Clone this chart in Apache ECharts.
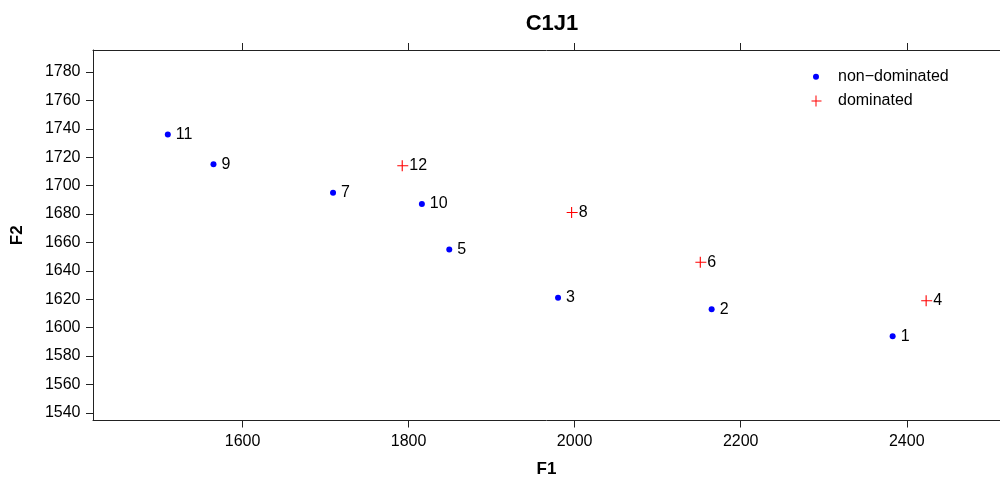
<!DOCTYPE html>
<html>
<head>
<meta charset="utf-8">
<script src="https://cdn.jsdelivr.net/npm/echarts@6/dist/echarts.min.js"></script>
<style>html,body{margin:0;padding:0;background:#fff}#c{width:1000px;height:480px}</style>
</head>
<body>
<div id="c"></div>
<script>
const titleText = 'C1J1';
const xName = 'F1';
const yName = 'F2';
const nonDomName = 'non\u2212dominated';
const domName = 'dominated';

const nonDomIds = [1, 2, 3, 5, 7, 9, 10, 11];
const nonDomF1 = [2383, 2165, 1980, 1849, 1709, 1565, 1816, 1510];
const nonDomF2 = [1594, 1613, 1621, 1655, 1695, 1715, 1687, 1736];

const domIds = [4, 6, 8, 12];
const domF1 = [2424, 2152, 1997, 1793];
const domF2 = [1619, 1646, 1681, 1714];

const xTicks = [1600, 1800, 2000, 2200, 2400];
const yTicks = [1540, 1560, 1580, 1600, 1620, 1640, 1660, 1680, 1700, 1720, 1740, 1760, 1780];

const FONT = '"Liberation Sans", Arial, Helvetica, sans-serif';
const plusPath = 'path://M4.5,0.5H5.5V5.5H10.5V6.5H5.5V11.5H4.5V6.5H0.5V5.5H4.5Z';
const plusLegend = 'path://M0,0L0.001,0.001ZM22,12L22.001,12.001ZM4.5,0.5H5.5V5.5H10.5V6.5H5.5V11.5H4.5V6.5H0.5V5.5H4.5Z';
const dotLegend = 'path://M0,0L0.001,0.001ZM22,12L22.001,12.001ZM2,6A3,3,0,1,1,8,6A3,3,0,1,1,2,6Z';

const nonDomData = nonDomIds.map((id, i) => ({ name: String(id), value: [nonDomF1[i], nonDomF2[i]] }));
const domData = domIds.map((id, i) => ({ name: String(id), value: [domF1[i], domF2[i]] }));

const chart = echarts.init(document.getElementById('c'), null, { renderer: 'canvas' });
const axisLineStyle = { color: '#222', width: 1 };
const plain = v => String(v);
chart.setOption({
  animation: false,
  backgroundColor: '#fff',
  textStyle: { fontFamily: FONT },
  title: {
    text: titleText,
    left: 547,
    textAlign: 'center',
    top: 8,
    textStyle: { fontFamily: FONT, fontSize: 22, fontWeight: 'bold', color: '#000' }
  },
  legend: [
    {
      data: [{ name: nonDomName, icon: dotLegend, itemStyle: { opacity: 1 } }],
      left: 811, top: 68.7, padding: 0,
      itemWidth: 22, itemHeight: 12,
      textStyle: { fontFamily: FONT, fontSize: 16, color: '#000' },
      selectedMode: false
    },
    {
      data: [{ name: domName, icon: plusLegend, itemStyle: { opacity: 1 } }],
      left: 811, top: 93, padding: 0,
      itemWidth: 22, itemHeight: 12,
      textStyle: { fontFamily: FONT, fontSize: 16, color: '#000' },
      selectedMode: false
    }
  ],
  grid: { left: 93, right: 0, top: 50, bottom: 59.5, containLabel: false, outerBoundsMode: 'none' },
  xAxis: [
    {
      type: 'value', position: 'bottom', min: 1419.9, max: 2512.3,
      name: xName, nameLocation: 'middle', nameGap: 40,
      nameTextStyle: { fontFamily: FONT, fontSize: 17, fontWeight: 'bold', color: '#000' },
      axisLine: { show: true, onZero: false, lineStyle: axisLineStyle },
      axisTick: { show: true, inside: false, length: 7, customValues: xTicks, lineStyle: axisLineStyle },
      axisLabel: { show: true, margin: 13, customValues: xTicks, formatter: plain, fontFamily: FONT, fontSize: 16, color: '#000' },
      splitLine: { show: false }
    },
    {
      type: 'value', position: 'top', min: 1419.9, max: 2512.3,
      axisLine: { show: true, onZero: false, lineStyle: axisLineStyle },
      axisTick: { show: true, inside: false, length: 7, customValues: xTicks, lineStyle: axisLineStyle },
      axisLabel: { show: false },
      splitLine: { show: false }
    }
  ],
  yAxis: {
    type: 'value', min: 1534.6, max: 1795.5,
    name: yName, nameLocation: 'middle', nameGap: 67, nameRotate: 90,
    nameTextStyle: { fontFamily: FONT, fontSize: 17, fontWeight: 'bold', color: '#000' },
    axisLine: { show: true, onZero: false, lineStyle: axisLineStyle },
    axisTick: { show: true, inside: false, length: 7, customValues: yTicks, lineStyle: axisLineStyle },
    axisLabel: { show: true, margin: 12.5, customValues: yTicks, formatter: plain, fontFamily: FONT, fontSize: 16, color: '#000' },
    splitLine: { show: false }
  },
  series: [
    {
      name: nonDomName, type: 'scatter', xAxisIndex: 0,
      symbol: 'circle', symbolSize: 6,
      itemStyle: { color: '#0000FF', opacity: 1 },
      label: { show: true, position: 'right', distance: 5, formatter: '{b}', fontFamily: FONT, fontSize: 16, color: '#000' },
      data: nonDomData
    },
    {
      name: domName, type: 'scatter', xAxisIndex: 0,
      symbol: plusPath, symbolSize: 11,
      itemStyle: { color: '#FF0000', opacity: 1 },
      label: { show: true, position: 'right', distance: 1, formatter: '{b}', fontFamily: FONT, fontSize: 16, color: '#000' },
      data: domData
    }
  ]
});
</script>
</body>
</html>
